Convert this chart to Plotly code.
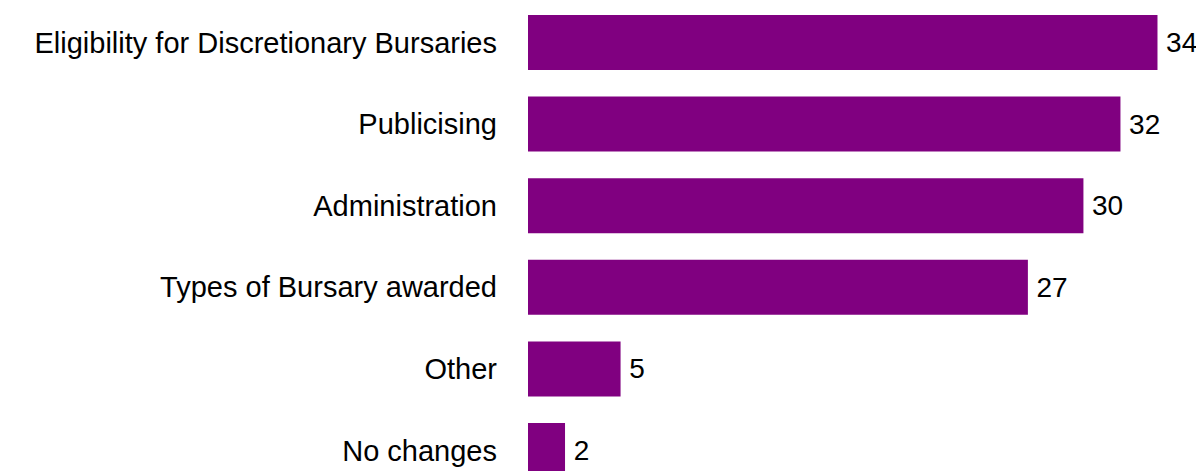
import plotly.graph_objects as go

categories = ["Eligibility for Discretionary Bursaries", "Publicising", "Administration",
              "Types of Bursary awarded", "Other", "No changes"]
values = [34, 32, 30, 27, 5, 2]

FONT = "Liberation Sans, Arial, sans-serif"

fig = go.Figure(go.Bar(
    x=values, y=categories, orientation="h",
    marker=dict(color="#800080", line=dict(width=0)),
    text=["\u2009" + str(v) for v in values], textposition="outside",
    textfont=dict(size=28, color="#000000", family=FONT),
    cliponaxis=False,
))

fig.update_layout(
    width=1196, height=463,
    margin=dict(l=520, r=28, t=0, b=0),
    paper_bgcolor="white", plot_bgcolor="white",
    bargap=0.326, showlegend=False,
    font=dict(family=FONT, size=29, color="#000000"),
    xaxis=dict(range=[0, 35], visible=False, showgrid=False, zeroline=False),
    yaxis=dict(categoryorder="array", categoryarray=categories,
               range=[5.251, -0.423], showgrid=False, zeroline=False, showline=False,
               ticks="", ticklabelstandoff=30,
               tickfont=dict(size=29, color="#000000", family=FONT)),
)

fig.write_html("out.html")
